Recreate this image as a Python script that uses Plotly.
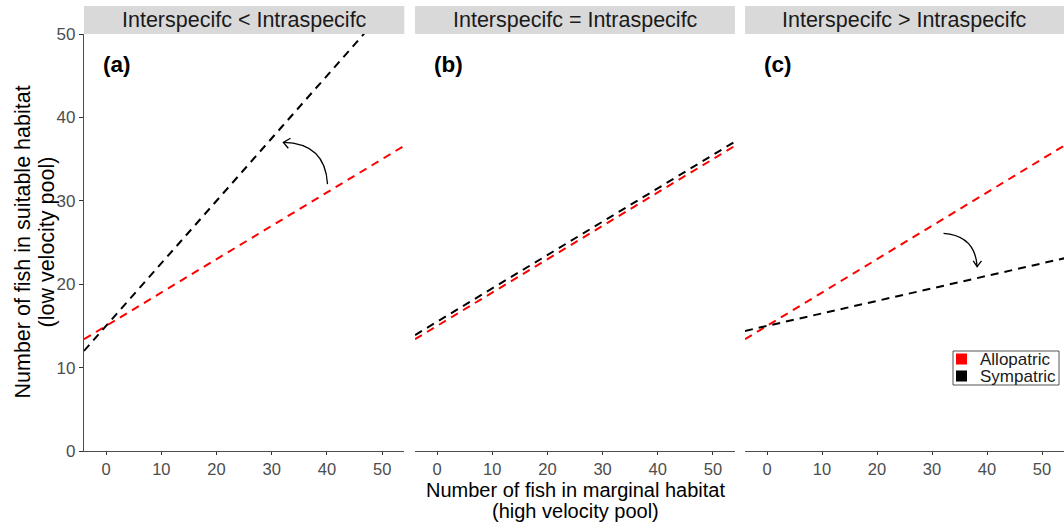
import plotly.graph_objects as go

# ---- data ----
panels = ["Interspecifc < Intraspecifc", "Interspecifc = Intraspecifc", "Interspecifc > Intraspecifc"]
panel_tags = ["(a)", "(b)", "(c)"]
x_ends = [-4, 55]                       # x at which each dashed line is read
allopatric_y = [[13.4, 37.0], [13.4, 37.0], [13.4, 37.0]]
sympatric_y = [[12.0, 56.25], [13.9, 37.5], [14.4, 23.25]]
series_names = ["Allopatric", "Sympatric"]
x_ticks = [0, 10, 20, 30, 40, 50]
y_ticks = [0, 10, 20, 30, 40, 50]

RED = "#FF0000"
BLACK = "#000000"
FONT = "Arial, Liberation Sans, sans-serif"

fig = go.Figure()

domains = [[0.0, 0.3268], [0.3378, 0.6643], [0.6745, 1.0]]
xaxes = ["x", "x2", "x3"]
yaxes = ["y", "y2", "y3"]

for i in range(3):
    fig.add_trace(go.Scatter(x=x_ends, y=allopatric_y[i], mode="lines", name=series_names[0],
                             line=dict(color=RED, width=2, dash="8px,6px"),
                             xaxis=xaxes[i], yaxis=yaxes[i], showlegend=False,
                             hoverinfo="skip"))
    fig.add_trace(go.Scatter(x=x_ends, y=sympatric_y[i], mode="lines", name=series_names[1],
                             line=dict(color=BLACK, width=2, dash="8px,6px"),
                             xaxis=xaxes[i], yaxis=yaxes[i], showlegend=False,
                             hoverinfo="skip"))

axis_common = dict(range=[-4, 54], tickvals=x_ticks, ticks="outside", ticklen=3,
                   tickcolor="#333333", showline=True, linecolor="#4D4D4D", linewidth=1.2,
                   showgrid=False, zeroline=False,
                   tickfont=dict(size=16.5, color="#4D4D4D", family=FONT))
layout = dict(
    width=1064, height=523, autosize=False,
    margin=dict(l=84, r=0, t=34, b=72),
    plot_bgcolor="white", paper_bgcolor="white",
    font=dict(family=FONT),
    showlegend=False,
)
for i in range(3):
    key = "xaxis" if i == 0 else f"xaxis{i+1}"
    ax = dict(axis_common)
    ax["domain"] = domains[i]
    ax["anchor"] = yaxes[i]
    layout[key] = ax
    ykey = "yaxis" if i == 0 else f"yaxis{i+1}"
    if i == 0:
        layout[ykey] = dict(range=[0, 50], tickvals=y_ticks, ticks="outside", ticklen=4,
                            tickcolor="#333333", showline=True, linecolor="#4D4D4D",
                            linewidth=1.2, showgrid=False, zeroline=False,
                            anchor="x", domain=[0, 1],
                            tickfont=dict(size=17, color="#4D4D4D", family=FONT))
    else:
        layout[ykey] = dict(range=[0, 50], matches="y", showticklabels=False,
                            showline=False, ticks="", showgrid=False, zeroline=False,
                            anchor=xaxes[i], domain=[0, 1])
fig.update_layout(**layout)


def px_x(px):
    return (px - 84) / 980


def px_y(py):
    return (451 - py) / 417


shapes = []
annotations = []
for i in range(3):
    shapes.append(dict(type="rect", xref="paper", yref="paper",
                       x0=domains[i][0], x1=domains[i][1], y0=1.0, y1=1.0671,
                       fillcolor="#D9D9D9", line=dict(width=0), layer="below"))
    annotations.append(dict(xref="paper", yref="paper", x=(domains[i][0] + domains[i][1]) / 2,
                            y=1.0336, text=panels[i], showarrow=False,
                            xanchor="center", yanchor="middle",
                            font=dict(size=21.5, color="#1A1A1A", family=FONT)))
    annotations.append(dict(xref=xaxes[i], yref=yaxes[i], x=2.0, y=46.3,
                            text=f"<b>{panel_tags[i]}</b>", showarrow=False,
                            xanchor="center", yanchor="middle",
                            font=dict(size=22.5, color="black", family=FONT)))

# curved arrows (annotation marks)
shapes.append(dict(type="path", xref="x", yref="y",
                   path="M 40.1,32.0 Q 39.7,36.9 32.1,37.0",
                   line=dict(color="black", width=1.3)))
shapes.append(dict(type="path", xref="x", yref="y",
                   path="M 33.4,37.5 L 32.1,37.0 L 33.0,36.3",
                   line=dict(color="black", width=1.3)))
shapes.append(dict(type="path", xref="x3", yref="y3",
                   path="M 32.1,26.1 Q 37.9,25.8 38.2,22.1",
                   line=dict(color="black", width=1.3)))
shapes.append(dict(type="path", xref="x3", yref="y3",
                   path="M 37.5,22.8 L 38.2,22.1 L 39.0,22.8",
                   line=dict(color="black", width=1.3)))

# legend (box, keys, labels)
shapes.append(dict(type="rect", xref="paper", yref="paper",
                   x0=px_x(953), x1=px_x(1059), y0=px_y(385), y1=px_y(351),
                   fillcolor="white", line=dict(color="#555555", width=1)))
key_rows = [(353.5, 364.5, RED, 359), (370.5, 381.5, BLACK, 376)]
for (top, bot, col, cy), name in zip(key_rows, series_names):
    shapes.append(dict(type="rect", xref="paper", yref="paper",
                       x0=px_x(956), x1=px_x(967), y0=px_y(bot), y1=px_y(top),
                       fillcolor=col, line=dict(width=0)))
    annotations.append(dict(xref="paper", yref="paper", x=px_x(978), y=px_y(cy),
                            text=name, showarrow=False, xanchor="left", yanchor="middle",
                            font=dict(size=17, color="#1A1A1A", family=FONT)))

# axis titles
annotations.append(dict(xref="paper", yref="paper", x=px_x(575), y=px_y(489.5),
                        text="Number of fish in marginal habitat",
                        showarrow=False, xanchor="center", yanchor="middle",
                        font=dict(size=20, color="black", family=FONT)))
annotations.append(dict(xref="paper", yref="paper", x=px_x(575), y=px_y(511),
                        text="(high velocity pool)",
                        showarrow=False, xanchor="center", yanchor="middle",
                        font=dict(size=20, color="black", family=FONT)))
annotations.append(dict(xref="paper", yref="paper", x=px_x(22), y=0.5,
                        text="Number of fish in suitable habitat",
                        showarrow=False, xanchor="center", yanchor="middle", textangle=-90,
                        font=dict(size=21.5, color="black", family=FONT)))
annotations.append(dict(xref="paper", yref="paper", x=px_x(46), y=0.5,
                        text="(low velocity pool)",
                        showarrow=False, xanchor="center", yanchor="middle", textangle=-90,
                        font=dict(size=21.5, color="black", family=FONT)))

fig.update_layout(shapes=shapes, annotations=annotations)
fig.write_html("out.html", config={"displayModeBar": False},
               post_script="document.body.style.margin='0';")
